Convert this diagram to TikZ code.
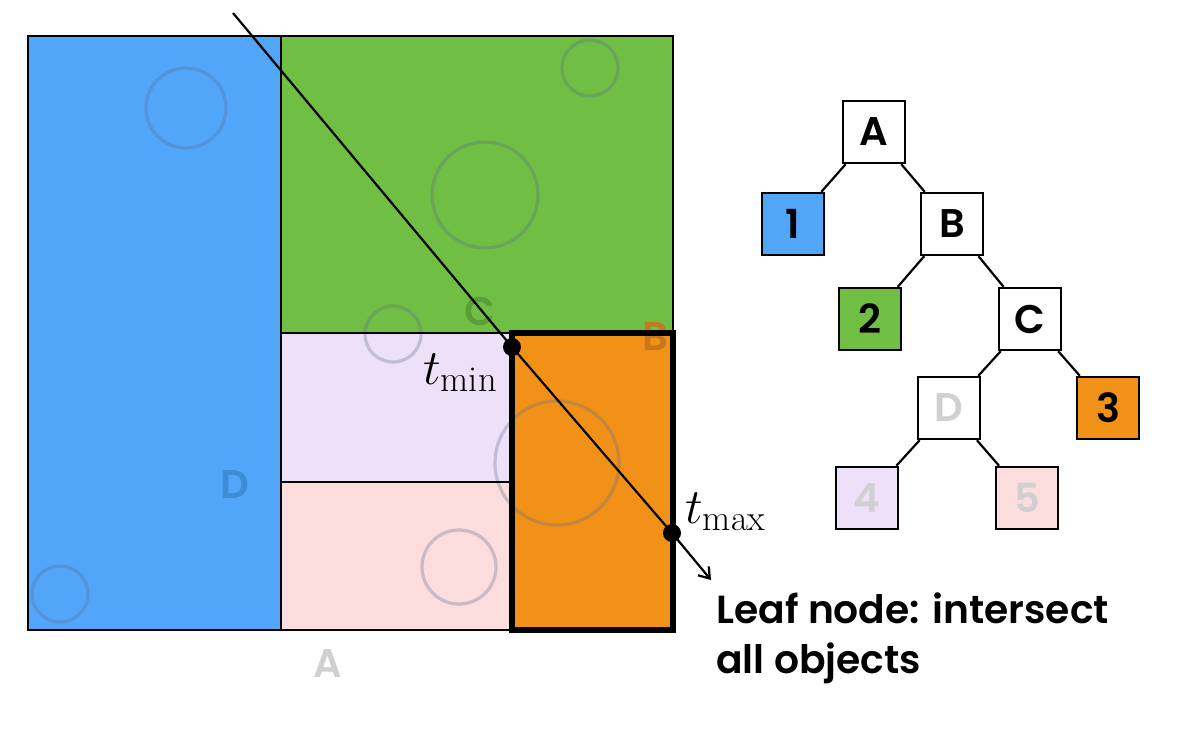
\documentclass[tikz,border=0pt]{standalone}
\usepackage{fontspec}
\newfontfamily\pop{Poppins}[BoldFont={Poppins SemiBold}]
\usetikzlibrary{arrows.meta}
\definecolor{cblue}{HTML}{51A6F9}
\definecolor{cgreen}{HTML}{70BE44}
\definecolor{corange}{HTML}{F29118}
\definecolor{clav}{HTML}{EEE0F8}
\definecolor{cpink}{HTML}{FBDDDD}
\definecolor{cgray}{HTML}{D0D0D0}
\definecolor{lblC}{HTML}{5A9E3A}
\definecolor{lblB}{HTML}{C8781C}
\definecolor{lblD}{HTML}{3E8BD6}
\definecolor{circ}{HTML}{5A6A90}
\tikzset{
  x=0.5pt,y=-0.5pt,
  edge/.style={line width=1.3pt},
  obj/.style={draw=circ,draw opacity=0.3,line width=1.6pt},
  reglbl/.style={font=\pop\bfseries\fontsize{20}{24}\selectfont,inner sep=0pt},
  tnode/.style={draw,line width=1.2pt,minimum size=31pt,inner sep=0pt,font=\pop\bfseries\fontsize{20}{24}\selectfont},
  tedge/.style={line width=1.1pt},
  dot/.style={circle,fill=black,inner sep=0pt,minimum size=9pt},
}
\begin{document}
\begin{tikzpicture}
\useasboundingbox (0,0) rectangle (1196,729);
% region fills
\fill[cblue] (28,36) rectangle (281,630);
\fill[cgreen] (281,36) rectangle (673,333);
\fill[clav] (281,333) rectangle (512,482);
\fill[cpink] (281,482) rectangle (512,630);
\fill[corange] (512,333) rectangle (673,630);
% objects
\draw[obj] (186,108) circle[radius=20pt];
\draw[obj] (60,594) circle[radius=14pt];
\draw[obj] (590,68) circle[radius=14pt];
\draw[obj] (485,195) circle[radius=26.5pt];
\draw[obj] (393,334) circle[radius=14pt];
\draw[obj] (557,463) circle[radius=31pt];
\draw[obj] (459,567) circle[radius=18.5pt];
% region labels
\node[reglbl,text=lblC] (lc) at (480,311) {C};
\node[reglbl,text=lblB] (lb) at (655,337) {B};
\node[reglbl,text=lblD] (ld) at (235,485) {D};
\node[reglbl,text=cgray] (la) at (328,664) {A};
% borders
\draw[edge] (28,36) rectangle (673,630);
\draw[edge] (281,36) -- (281,630);
\draw[edge] (281,333) -- (673,333);
\draw[edge] (281,482) -- (512,482);
\draw[line width=2.6pt] (512,333) rectangle (673,630);
% ray
\coordinate (rs) at (233,13);
\coordinate (re) at (711,580);
\node[dot] (tmin) at (512,347) {};
\node[dot] (tmax) at (672,533) {};
\draw[line width=1.1pt,-{Straight Barb[length=5pt,width=7pt]}] (rs) -- (tmin.center) -- (tmax.center) -- (re);
\node[anchor=base east,inner sep=0pt,font=\fontsize{26}{30}\selectfont] (lmin) at (498,384) {$t_{\min}$};
\node[anchor=base west,inner sep=0pt,font=\fontsize{26}{30}\selectfont] (lmax) at (685,523) {$t_{\max}$};
\node[anchor=north west,inner sep=0pt,align=left,font=\pop\bfseries\fontsize{19.6}{25}\selectfont] (leaf) at (716,592) {Leaf node: intersect\\all objects};
% tree
\node[tnode,fill=white] (A) at (874,132) {A};
\node[tnode,fill=cblue] (n1) at (793,224) {1};
\node[tnode,fill=white] (B) at (952,224) {B};
\node[tnode,fill=cgreen] (n2) at (870,319) {2};
\node[tnode,fill=white] (C) at (1030,319) {C};
\node[tnode,fill=white,text=cgray] (D) at (949,408) {D};
\node[tnode,fill=corange] (n3) at (1108,408) {3};
\node[tnode,fill=clav,text=cgray] (n4) at (867,498) {4};
\node[tnode,fill=cpink,text=cgray] (n5) at (1027,498) {5};
\draw[tedge] (A) -- (n1);
\draw[tedge] (A) -- (B);
\draw[tedge] (B) -- (n2);
\draw[tedge] (B) -- (C);
\draw[tedge] (C) -- (D);
\draw[tedge] (C) -- (n3);
\draw[tedge] (D) -- (n4);
\draw[tedge] (D) -- (n5);
\end{tikzpicture}
\end{document}
